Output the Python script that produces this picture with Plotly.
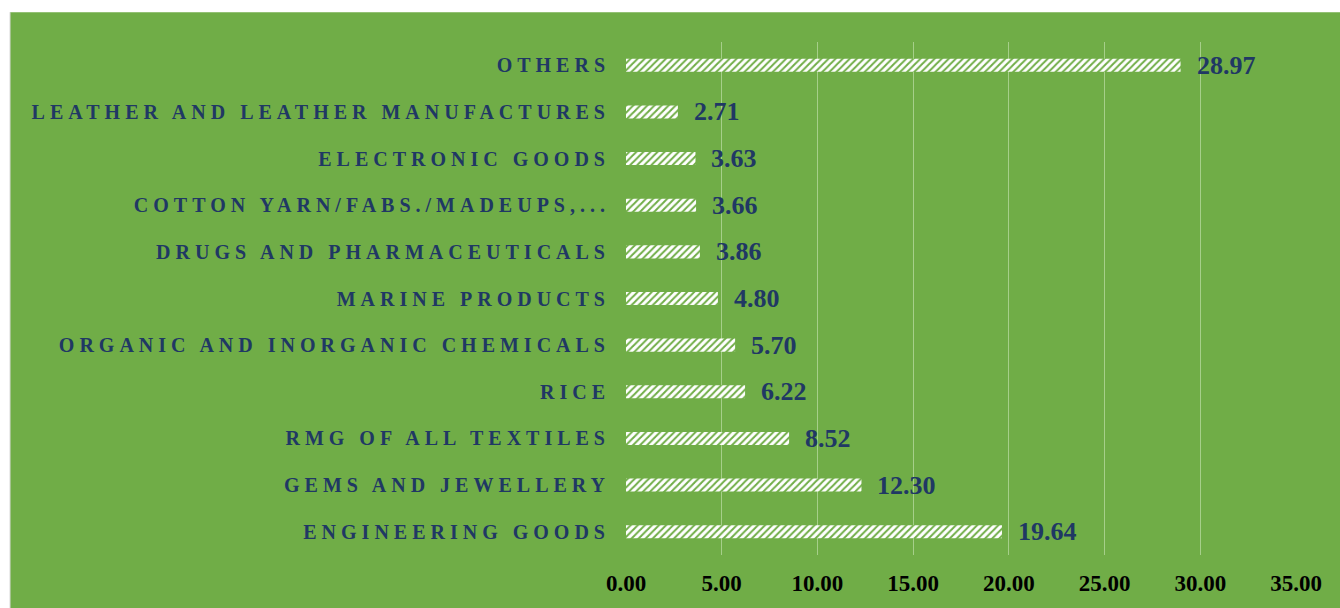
"""Export share by commodity group — horizontal hatched bars on green background."""

import plotly.graph_objects as go

# Categories, top to bottom as they appear in the chart.
categories = [
    "OTHERS",
    "LEATHER AND LEATHER MANUFACTURES",
    "ELECTRONIC GOODS",
    "COTTON YARN/FABS./MADEUPS,...",
    "DRUGS AND PHARMACEUTICALS",
    "MARINE PRODUCTS",
    "ORGANIC AND INORGANIC CHEMICALS",
    "RICE",
    "RMG OF ALL TEXTILES",
    "GEMS AND JEWELLERY",
    "ENGINEERING GOODS",
]
shares = [28.97, 2.71, 3.63, 3.66, 3.86, 4.80, 5.70, 6.22, 8.52, 12.30, 19.64]
x_ticks = [0, 5, 10, 15, 20, 25, 30, 35]

GREEN = "#70AD47"
NAVY = "#203864"
GRID = "#A6CF8A"
SERIF = "Liberation Serif, Times New Roman, serif"

W, H = 1340, 608
M_L, M_R, M_T, M_B = 626, 44, 42, 50
PW, PH = W - M_L - M_R, H - M_T - M_B

fig = go.Figure()

fig.add_trace(
    go.Bar(
        x=shares,
        y=categories,
        orientation="h",
        marker={
            "color": "white",
            "line": {"width": 0},
            "pattern": {
                "shape": "/",
                "fgcolor": GREEN,
                "bgcolor": "white",
                "size": 5,
                "solidity": 0.4,
                "fillmode": "replace",
            },
        },
        hoverinfo="skip",
    )
)

# Value labels to the right of each bar.
for cat, val in zip(categories, shares):
    fig.add_annotation(
        x=val,
        y=cat,
        text=f"{val:.2f}",
        showarrow=False,
        xanchor="left",
        yanchor="middle",
        xshift=14,
        font={"family": SERIF, "size": 26, "color": NAVY, "weight": "bold"},
    )

# Green chart area, with a faint border line on its left edge only.
x_left = (10 - M_L) / PW
y_top = (PH + M_T - 12) / PH
fig.add_shape(
    type="rect",
    xref="paper",
    yref="paper",
    x0=x_left,
    x1=(W + 5 - M_L) / PW,
    y0=-(M_B + 5) / PH,
    y1=y_top,
    fillcolor=GREEN,
    line={"width": 0},
    layer="below",
)
fig.add_shape(
    type="line",
    xref="paper",
    yref="paper",
    x0=x_left,
    x1=x_left,
    y0=-(M_B + 5) / PH,
    y1=y_top,
    line={"color": "#D9D9D9", "width": 1},
    layer="below",
)

fig.update_layout(
    width=W,
    height=H,
    margin={"l": M_L, "r": M_R, "t": M_T, "b": M_B},
    paper_bgcolor="white",
    plot_bgcolor=GREEN,
    showlegend=False,
    bargap=0.72,
)
fig.update_xaxes(
    range=[0, 35],
    tickvals=x_ticks,
    tickformat=".2f",
    showgrid=True,
    gridcolor=GRID,
    gridwidth=1,
    zeroline=False,
    showline=False,
    ticks="",
    ticklabelstandoff=12,
    tickfont={"family": SERIF, "size": 23, "color": "black", "weight": "bold"},
)
fig.update_yaxes(
    autorange="reversed",
    showgrid=False,
    zeroline=False,
    showline=False,
    ticks="",
    ticklabelstandoff=15,
    tickfont={"family": SERIF, "size": 20, "color": NAVY, "weight": "bold"},
)

# Page without body margin; category labels are letter-spaced as in the reference.
page_js = """
document.body.style.margin = '0';
var gd = document.getElementById('{plot_id}');
gd.querySelectorAll('.ytick text').forEach(function (t) {
    t.style.letterSpacing = '5px';
});
"""

fig.write_html("out.html", post_script=page_js, config={"displayModeBar": False})
